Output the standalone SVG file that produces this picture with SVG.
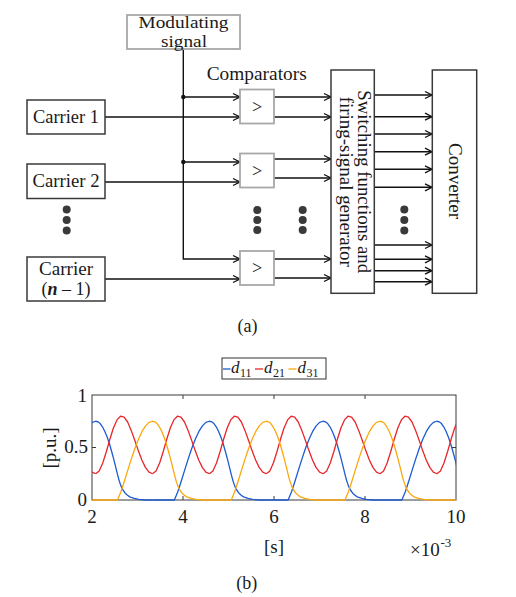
<svg xmlns="http://www.w3.org/2000/svg" xmlns:xlink="http://www.w3.org/1999/xlink" width="516" height="597" viewBox="0 0 516 597">
<style>
text{font-family:"Liberation Serif","Times New Roman",serif;fill:#1a1a1a}
.lbl{font-size:18px}
.box{fill:#fff;stroke:#3a3a3a;stroke-width:1.5}
.gbox{fill:#fff;stroke:#a8a8a8;stroke-width:1.8}
.con{fill:none;stroke:#111;stroke-width:1.4}
.dot{fill:#3a3a3a}
.ax{fill:none;stroke:#3a3a3a;stroke-width:1}
.tk{font-size:19px}
.c1{fill:none;stroke:#1c5bd1;stroke-width:1.3;stroke-linejoin:round}
.c2{fill:none;stroke:#e8262a;stroke-width:1.3;stroke-linejoin:round}
.c3{fill:none;stroke:#fba80c;stroke-width:1.3;stroke-linejoin:round}
</style>
<defs>
<marker id="ah" markerWidth="10" markerHeight="10" refX="9" refY="5" orient="auto" markerUnits="userSpaceOnUse">
<path d="M2,1.5 L9,5 L2,8.5" fill="none" stroke="#111" stroke-width="1.3"/>
</marker>
<path id="pulse" d="M-56.9,0 L-35,0 L-31.5,-8.5 L-28,-19.2 L-24.5,-30.6 L-21,-41.6 L-17.5,-52 L-14,-61.1 L-10.5,-68.6 L-7,-74.1 L-3.5,-77.6 L0,-78.75 L2.28,-78.2 L4.55,-76.4 L6.83,-73.2 L9.1,-68.8 L11.38,-63.2 L13.65,-56.7 L15.93,-48.8 L18.2,-40.4 L20.02,-33.1 L21.84,-25.7 L23.66,-18.9 L25.48,-13.65 L27.3,-10 L29.58,-6.8 L31.85,-4.7 L34.13,-3.15 L38.68,-1.6 L43.23,-0.7 L50.05,0 L56.9,0"/>
<path id="redp" d="M0,473.75 L3.55,470.9 L7.11,463 L10.66,451.7 L14.22,439.2 L17.77,428 L21.33,419.9 L24.88,416.2 L28.44,417.1 L31.99,422 L35.55,430.4 L39.1,440.3 L42.66,450.6 L46.21,460 L49.77,467.4 L53.32,472.1 L56.9,473.75"/>
<clipPath id="plotclip"><rect x="92" y="385" width="364" height="118"/></clipPath>
</defs>

<g id="connectors">
<path class="con" d="M183.3,49 V259 H240" marker-end="url(#ah)"/>
<path class="con" d="M183.3,97 H240" marker-end="url(#ah)"/>
<path class="con" d="M183.3,162 H240" marker-end="url(#ah)"/>
<circle cx="183.3" cy="97" r="2.2" fill="#111"/>
<circle cx="183.3" cy="162" r="2.2" fill="#111"/>
<path class="con" d="M105,117 H240" marker-end="url(#ah)"/>
<path class="con" d="M105,182 H240" marker-end="url(#ah)"/>
<path class="con" d="M105,279 H240" marker-end="url(#ah)"/>
<path class="con" d="M274,97 H331" marker-end="url(#ah)"/>
<path class="con" d="M274,117 H331" marker-end="url(#ah)"/>
<path class="con" d="M274,159 H331" marker-end="url(#ah)"/>
<path class="con" d="M274,178 H331" marker-end="url(#ah)"/>
<path class="con" d="M274,259 H331" marker-end="url(#ah)"/>
<path class="con" d="M274,278 H331" marker-end="url(#ah)"/>
<path class="con" d="M374.3,95 H432" marker-end="url(#ah)"/>
<path class="con" d="M374.3,116.7 H432" marker-end="url(#ah)"/>
<path class="con" d="M374.3,134 H432" marker-end="url(#ah)"/>
<path class="con" d="M374.3,151.7 H432" marker-end="url(#ah)"/>
<path class="con" d="M374.3,169.3 H432" marker-end="url(#ah)"/>
<path class="con" d="M374.3,187.3 H432" marker-end="url(#ah)"/>
<path class="con" d="M374.3,245 H432" marker-end="url(#ah)"/>
<path class="con" d="M374.3,259.3 H432" marker-end="url(#ah)"/>
<path class="con" d="M374.3,270.7 H432" marker-end="url(#ah)"/>
<path class="con" d="M374.3,281.7 H432" marker-end="url(#ah)"/>
</g>

<g id="modulating">
<rect class="gbox" x="127" y="15" width="113" height="34"/>
<text x="183.5" y="27.5" font-size="17.5" text-anchor="middle" textLength="90" lengthAdjust="spacingAndGlyphs">Modulating</text>
<text x="184" y="47" font-size="17.5" text-anchor="middle" textLength="46" lengthAdjust="spacingAndGlyphs">signal</text>
</g>
<g id="comparators-label">
<text class="lbl" x="256.7" y="80" text-anchor="middle" textLength="100" lengthAdjust="spacingAndGlyphs">Comparators</text>
</g>
<g id="carrier1">
<rect class="box" x="27" y="100" width="78" height="34"/>
<text class="lbl" x="66" y="123" text-anchor="middle" textLength="66" lengthAdjust="spacingAndGlyphs">Carrier 1</text>
</g>
<g id="carrier2">
<rect class="box" x="27" y="164" width="78" height="34.5"/>
<text class="lbl" x="66" y="187.3" text-anchor="middle" textLength="67" lengthAdjust="spacingAndGlyphs">Carrier 2</text>
</g>
<g id="carrier-n1">
<rect class="box" x="27" y="257" width="78" height="44"/>
<text class="lbl" x="66" y="275" text-anchor="middle" textLength="54" lengthAdjust="spacingAndGlyphs">Carrier</text>
<text class="lbl" x="66" y="294.5" text-anchor="middle">(<tspan font-weight="bold" font-style="italic">n</tspan> – 1)</text>
</g>
<g id="carrier-dots">
<circle class="dot" cx="66.7" cy="209.5" r="4"/>
<circle class="dot" cx="66.7" cy="220" r="4"/>
<circle class="dot" cx="66.7" cy="230.5" r="4"/>
</g>
<g id="comp1">
<rect class="gbox" x="240" y="89.5" width="34" height="34"/>
<text x="257" y="112.5" text-anchor="middle" font-size="18">&gt;</text>
</g>
<g id="comp2">
<rect class="gbox" x="240" y="153.5" width="34" height="34"/>
<text x="257" y="176.5" text-anchor="middle" font-size="18">&gt;</text>
</g>
<g id="comp3">
<rect class="gbox" x="240" y="251" width="34" height="34"/>
<text x="257" y="274" text-anchor="middle" font-size="18">&gt;</text>
</g>
<g id="mid-dots">
<circle class="dot" cx="257.3" cy="210" r="4"/>
<circle class="dot" cx="257.3" cy="220" r="4"/>
<circle class="dot" cx="257.3" cy="230" r="4"/>
<circle class="dot" cx="302.7" cy="210" r="4"/>
<circle class="dot" cx="302.7" cy="220" r="4"/>
<circle class="dot" cx="302.7" cy="230" r="4"/>
<circle class="dot" cx="404.3" cy="209.5" r="4"/>
<circle class="dot" cx="404.3" cy="220" r="4"/>
<circle class="dot" cx="404.3" cy="230.5" r="4"/>
</g>
<g id="switching">
<rect class="box" x="331" y="70" width="43.3" height="223.3"/>
<g transform="translate(352.7,181.7) rotate(90)">
<text class="lbl" x="0" y="-5.5" text-anchor="middle" textLength="183" lengthAdjust="spacingAndGlyphs">Switching functions and</text>
<text class="lbl" x="0" y="13" text-anchor="middle" textLength="170" lengthAdjust="spacingAndGlyphs">firing-signal generator</text>
</g>
</g>
<g id="converter">
<rect class="box" x="432.3" y="70" width="44.4" height="223.3"/>
<g transform="translate(454.5,181) rotate(90)">
<text class="lbl" x="0" y="6" text-anchor="middle" textLength="76" lengthAdjust="spacingAndGlyphs">Converter</text>
</g>
</g>
<g id="caption-a">
<text class="lbl" x="247.5" y="332" text-anchor="middle">(a)</text>
</g>

<g id="plot">
<g id="legend">
<rect x="222" y="358" width="104" height="21" fill="#fff" stroke="#333" stroke-width="1"/>
<line x1="223" y1="369" x2="230.5" y2="369" class="c1"/>
<text x="231" y="373" font-size="17" font-style="italic">d</text>
<text x="240" y="376.5" font-size="12">11</text>
<line x1="255" y1="369" x2="263" y2="369" class="c2"/>
<text x="264" y="373" font-size="17" font-style="italic">d</text>
<text x="273" y="376.5" font-size="12">21</text>
<line x1="288.5" y1="369" x2="296.5" y2="369" class="c3"/>
<text x="297.5" y="373" font-size="17" font-style="italic">d</text>
<text x="306.5" y="376.5" font-size="12">31</text>
</g>
<rect class="ax" x="92" y="395" width="364" height="105"/>
<path class="ax" d="M183,500 v-4 M274,500 v-4 M365,500 v-4 M183,395 v4 M274,395 v4 M365,395 v4 M92,447.5 h4 M456,447.5 h-4"/>
<g clip-path="url(#plotclip)">
<use xlink:href="#pulse" class="c1" transform="translate(95.64,500)"/>
<use xlink:href="#pulse" class="c1" transform="translate(209.39,500)"/>
<use xlink:href="#pulse" class="c1" transform="translate(323.14,500)"/>
<use xlink:href="#pulse" class="c1" transform="translate(436.89,500)"/>
<use xlink:href="#redp" class="c2" transform="translate(38.77,0)"/>
<use xlink:href="#redp" class="c2" transform="translate(95.64,0)"/>
<use xlink:href="#redp" class="c2" transform="translate(152.52,0)"/>
<use xlink:href="#redp" class="c2" transform="translate(209.39,0)"/>
<use xlink:href="#redp" class="c2" transform="translate(266.27,0)"/>
<use xlink:href="#redp" class="c2" transform="translate(323.14,0)"/>
<use xlink:href="#redp" class="c2" transform="translate(380.02,0)"/>
<use xlink:href="#redp" class="c2" transform="translate(436.89,0)"/>
<use xlink:href="#pulse" class="c3" transform="translate(38.77,500)"/>
<use xlink:href="#pulse" class="c3" transform="translate(152.52,500)"/>
<use xlink:href="#pulse" class="c3" transform="translate(266.27,500)"/>
<use xlink:href="#pulse" class="c3" transform="translate(380.02,500)"/>
<use xlink:href="#pulse" class="c3" transform="translate(493.77,500)"/>
</g>
<text class="tk" x="87" y="401.5" text-anchor="end">1</text>
<text class="tk" x="88" y="453" text-anchor="end">0.5</text>
<text class="tk" x="87" y="505.5" text-anchor="end">0</text>
<text class="tk" x="92" y="522.5" text-anchor="middle">2</text>
<text class="tk" x="183" y="522.5" text-anchor="middle">4</text>
<text class="tk" x="274" y="522.5" text-anchor="middle">6</text>
<text class="tk" x="365" y="522.5" text-anchor="middle">8</text>
<text class="tk" x="456" y="522.5" text-anchor="middle">10</text>
<text class="tk" x="274" y="553" text-anchor="middle">[s]</text>
<text class="tk" transform="translate(56,448) rotate(-90)" x="0" y="0" text-anchor="middle">[p.u.]</text>
<text x="410" y="556" font-size="19">×10</text>
<text x="440.5" y="546.5" font-size="13">-3</text>
</g>
<g id="caption-b">
<text class="lbl" x="246.7" y="589" text-anchor="middle">(b)</text>
</g>
</svg>
